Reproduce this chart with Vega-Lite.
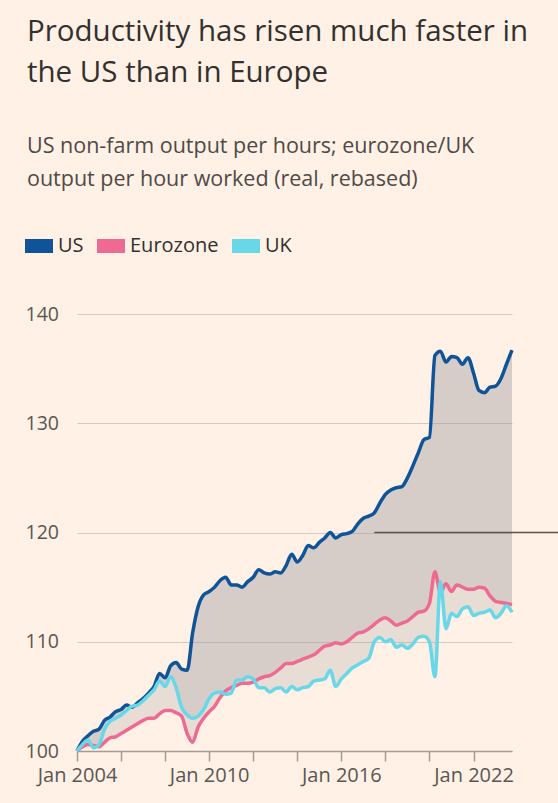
{
  "$schema": "https://vega.github.io/schema/vega-lite/v6.json",
  "width": 435,
  "height": 437,
  "autosize": {"type": "none"},
  "padding": {"left": 77, "top": 314, "right": 46, "bottom": 52},
  "background": "#fff1e5",
  "config": {
    "view": {"stroke": null},
    "font": "Open Sans",
    "legend": {"padding": 0}
  },
  "title": {
    "text": ["Productivity has risen much faster in", "the US than in Europe"],
    "subtitle": ["US non-farm output per hours; eurozone/UK", "output per hour worked (real, rebased)"],
    "anchor": "start",
    "frame": "bounds",
    "font": "Open Sans",
    "subtitleFont": "Open Sans",
    "fontSize": 29.5,
    "fontWeight": "normal",
    "color": "#33302e",
    "lineHeight": 41,
    "subtitleFontSize": 21.5,
    "subtitleColor": "#4f4a47",
    "subtitleLineHeight": 33,
    "subtitlePadding": 47,
    "offset": 41,
    "dx": 2
  },
  "datasets": {
    "prod": [
      {"date": "2004-01-01", "US": 100.0, "Eurozone": 100.0, "UK": 100.0},
      {"date": "2004-04-01", "US": 100.9, "Eurozone": 100.4, "UK": 100.6},
      {"date": "2004-07-01", "US": 101.4, "Eurozone": 100.6, "UK": 101.0},
      {"date": "2004-10-01", "US": 101.8, "Eurozone": 100.5, "UK": 100.3},
      {"date": "2005-01-01", "US": 102.0, "Eurozone": 100.4, "UK": 100.6},
      {"date": "2005-04-01", "US": 102.8, "Eurozone": 100.8, "UK": 102.0},
      {"date": "2005-07-01", "US": 103.1, "Eurozone": 101.2, "UK": 102.7},
      {"date": "2005-10-01", "US": 103.6, "Eurozone": 101.3, "UK": 103.0},
      {"date": "2006-01-01", "US": 103.8, "Eurozone": 101.6, "UK": 103.3},
      {"date": "2006-04-01", "US": 104.2, "Eurozone": 101.9, "UK": 103.7},
      {"date": "2006-07-01", "US": 104.0, "Eurozone": 102.2, "UK": 104.1},
      {"date": "2006-10-01", "US": 104.4, "Eurozone": 102.5, "UK": 104.2},
      {"date": "2007-01-01", "US": 104.8, "Eurozone": 102.8, "UK": 104.6},
      {"date": "2007-04-01", "US": 105.3, "Eurozone": 103.0, "UK": 105.1},
      {"date": "2007-07-01", "US": 105.9, "Eurozone": 103.0, "UK": 105.6},
      {"date": "2007-10-01", "US": 107.1, "Eurozone": 103.4, "UK": 106.4},
      {"date": "2008-01-01", "US": 106.7, "Eurozone": 103.7, "UK": 105.9},
      {"date": "2008-04-01", "US": 107.8, "Eurozone": 103.7, "UK": 106.8},
      {"date": "2008-07-01", "US": 108.1, "Eurozone": 103.5, "UK": 105.8},
      {"date": "2008-10-01", "US": 107.5, "Eurozone": 103.2, "UK": 104.0},
      {"date": "2009-01-01", "US": 107.4, "Eurozone": 101.6, "UK": 103.3},
      {"date": "2009-04-01", "US": 110.8, "Eurozone": 100.8, "UK": 103.0},
      {"date": "2009-07-01", "US": 113.2, "Eurozone": 102.2, "UK": 103.2},
      {"date": "2009-10-01", "US": 114.3, "Eurozone": 103.0, "UK": 103.8},
      {"date": "2010-01-01", "US": 114.6, "Eurozone": 103.6, "UK": 104.8},
      {"date": "2010-04-01", "US": 115.0, "Eurozone": 104.1, "UK": 105.3},
      {"date": "2010-07-01", "US": 115.6, "Eurozone": 104.9, "UK": 105.4},
      {"date": "2010-10-01", "US": 115.9, "Eurozone": 105.5, "UK": 105.2},
      {"date": "2011-01-01", "US": 115.2, "Eurozone": 105.8, "UK": 105.3},
      {"date": "2011-04-01", "US": 115.2, "Eurozone": 106.0, "UK": 106.5},
      {"date": "2011-07-01", "US": 115.0, "Eurozone": 106.2, "UK": 106.5},
      {"date": "2011-10-01", "US": 115.5, "Eurozone": 106.2, "UK": 106.8},
      {"date": "2012-01-01", "US": 115.9, "Eurozone": 106.3, "UK": 106.6},
      {"date": "2012-04-01", "US": 116.6, "Eurozone": 106.6, "UK": 105.8},
      {"date": "2012-07-01", "US": 116.3, "Eurozone": 106.8, "UK": 105.8},
      {"date": "2012-10-01", "US": 116.2, "Eurozone": 106.9, "UK": 105.4},
      {"date": "2013-01-01", "US": 116.4, "Eurozone": 107.2, "UK": 105.7},
      {"date": "2013-04-01", "US": 116.3, "Eurozone": 107.6, "UK": 105.8},
      {"date": "2013-07-01", "US": 117.0, "Eurozone": 108.0, "UK": 105.4},
      {"date": "2013-10-01", "US": 118.0, "Eurozone": 108.0, "UK": 105.9},
      {"date": "2014-01-01", "US": 117.3, "Eurozone": 108.2, "UK": 105.6},
      {"date": "2014-04-01", "US": 117.9, "Eurozone": 108.4, "UK": 105.8},
      {"date": "2014-07-01", "US": 118.8, "Eurozone": 108.6, "UK": 105.9},
      {"date": "2014-10-01", "US": 118.6, "Eurozone": 108.8, "UK": 106.4},
      {"date": "2015-01-01", "US": 119.1, "Eurozone": 109.2, "UK": 106.5},
      {"date": "2015-04-01", "US": 119.5, "Eurozone": 109.6, "UK": 106.6},
      {"date": "2015-07-01", "US": 120.0, "Eurozone": 109.7, "UK": 107.4},
      {"date": "2015-10-01", "US": 119.5, "Eurozone": 109.9, "UK": 105.9},
      {"date": "2016-01-01", "US": 119.8, "Eurozone": 109.8, "UK": 106.6},
      {"date": "2016-04-01", "US": 119.9, "Eurozone": 110.0, "UK": 107.1},
      {"date": "2016-07-01", "US": 120.1, "Eurozone": 110.4, "UK": 107.6},
      {"date": "2016-10-01", "US": 120.8, "Eurozone": 110.8, "UK": 107.9},
      {"date": "2017-01-01", "US": 121.3, "Eurozone": 110.9, "UK": 108.2},
      {"date": "2017-04-01", "US": 121.5, "Eurozone": 111.2, "UK": 108.5},
      {"date": "2017-07-01", "US": 121.8, "Eurozone": 111.6, "UK": 110.0},
      {"date": "2017-10-01", "US": 122.7, "Eurozone": 112.0, "UK": 110.4},
      {"date": "2018-01-01", "US": 123.5, "Eurozone": 112.2, "UK": 110.0},
      {"date": "2018-04-01", "US": 123.9, "Eurozone": 111.9, "UK": 110.2},
      {"date": "2018-07-01", "US": 124.1, "Eurozone": 111.5, "UK": 109.5},
      {"date": "2018-10-01", "US": 124.2, "Eurozone": 111.7, "UK": 109.7},
      {"date": "2019-01-01", "US": 125.0, "Eurozone": 111.9, "UK": 109.4},
      {"date": "2019-04-01", "US": 126.1, "Eurozone": 112.3, "UK": 109.8},
      {"date": "2019-07-01", "US": 127.3, "Eurozone": 112.7, "UK": 110.4},
      {"date": "2019-10-01", "US": 128.5, "Eurozone": 112.8, "UK": 110.5},
      {"date": "2020-01-01", "US": 128.7, "Eurozone": 113.5, "UK": 110.0},
      {"date": "2020-04-01", "US": 136.2, "Eurozone": 116.4, "UK": 106.8},
      {"date": "2020-07-01", "US": 136.6, "Eurozone": 114.5, "UK": 115.5},
      {"date": "2020-10-01", "US": 135.6, "Eurozone": 115.3, "UK": 111.2},
      {"date": "2021-01-01", "US": 136.1, "Eurozone": 114.6, "UK": 112.6},
      {"date": "2021-04-01", "US": 136.0, "Eurozone": 115.2, "UK": 112.3},
      {"date": "2021-07-01", "US": 135.4, "Eurozone": 115.0, "UK": 113.0},
      {"date": "2021-10-01", "US": 136.0, "Eurozone": 114.8, "UK": 113.2},
      {"date": "2022-01-01", "US": 134.6, "Eurozone": 114.8, "UK": 112.4},
      {"date": "2022-04-01", "US": 133.0, "Eurozone": 115.0, "UK": 112.6},
      {"date": "2022-07-01", "US": 132.8, "Eurozone": 114.9, "UK": 112.7},
      {"date": "2022-10-01", "US": 133.3, "Eurozone": 114.2, "UK": 112.9},
      {"date": "2023-01-01", "US": 133.4, "Eurozone": 113.7, "UK": 112.2},
      {"date": "2023-04-01", "US": 134.1, "Eurozone": 113.6, "UK": 112.6},
      {"date": "2023-07-01", "US": 135.4, "Eurozone": 113.5, "UK": 113.3},
      {"date": "2023-10-01", "US": 136.7, "Eurozone": 113.4, "UK": 112.7}
    ],
    "note": [{"start": "2017-07-01", "end": "2026-06-01", "v": 120}]
  },
  "layer": [
    {
      "data": {"name": "prod"},
      "mark": {"type": "area", "interpolate": "monotone", "color": "#96969e", "opacity": 0.22},
      "encoding": {
        "x": {
          "field": "date", "type": "temporal", "title": null,
          "scale": {"type": "utc", "domain": [{"year": 2004, "month": 1, "date": 1, "utc": true}, {"year": 2023, "month": 10, "date": 1, "utc": true}]},
          "axis": {
            "values": [
              {"year": 2004, "month": 1, "date": 1, "utc": true},
              {"year": 2006, "month": 1, "date": 1, "utc": true},
              {"year": 2008, "month": 1, "date": 1, "utc": true},
              {"year": 2010, "month": 1, "date": 1, "utc": true},
              {"year": 2012, "month": 1, "date": 1, "utc": true},
              {"year": 2014, "month": 1, "date": 1, "utc": true},
              {"year": 2016, "month": 1, "date": 1, "utc": true},
              {"year": 2018, "month": 1, "date": 1, "utc": true},
              {"year": 2020, "month": 1, "date": 1, "utc": true},
              {"year": 2022, "month": 1, "date": 1, "utc": true}
            ],
            "format": "%b %Y",
            "labelExpr": "utcyear(datum.value) % 6 == 0 ? datum.label : ''",
            "grid": false,
            "tickSize": 10,
            "tickColor": "#a39b94",
            "tickWidth": 1.5,
            "domainColor": "#a39b94",
            "domainWidth": 1.5,
            "labelFontSize": 20,
            "labelColor": "#5c5652",
            "labelPadding": 4,
            "labelFlush": false,
            "labelOverlap": false
          }
        },
        "y": {
          "field": "US", "type": "quantitative", "title": null,
          "scale": {"domain": [100, 140], "nice": false},
          "axis": {
            "values": [100, 110, 120, 130, 140],
            "grid": true,
            "gridColor": "#d3c9c0",
            "gridWidth": 1.2,
            "ticks": false,
            "domain": false,
            "labelAlign": "left",
            "labelBaseline": "middle",
            "labelPadding": 52,
            "labelFontSize": 19.5,
            "labelColor": "#5c5652"
          }
        },
        "y2": {"field": "Eurozone"}
      }
    },
    {
      "data": {"name": "prod"},
      "mark": {"type": "area", "interpolate": "monotone", "color": "#96969e", "opacity": 0.22},
      "encoding": {
        "x": {"field": "date", "type": "temporal", "title": null},
        "y": {"field": "US", "type": "quantitative", "title": null},
        "y2": {"field": "UK"}
      }
    },
    {
      "data": {"name": "prod"},
      "transform": [{"fold": ["US", "Eurozone", "UK"], "as": ["series", "value"]}],
      "mark": {"type": "line", "interpolate": "monotone", "strokeWidth": 3.5},
      "encoding": {
        "x": {"field": "date", "type": "temporal", "title": null},
        "y": {"field": "value", "type": "quantitative", "title": null},
        "color": {
          "field": "series", "type": "nominal",
          "scale": {"domain": ["US", "Eurozone", "UK"], "range": ["#0f5499", "#ee6a93", "#68d7e8"]},
          "legend": {
            "title": null,
            "orient": "none",
            "direction": "horizontal",
            "legendX": -52,
            "legendY": -82,
            "symbolType": "M-1,-0.5H1V0.5H-1Z",
            "symbolSize": 784,
            "symbolStrokeWidth": 0,
            "symbolOpacity": 1,
            "labelFontSize": 20,
            "labelColor": "#33302e",
            "labelOffset": 5,
            "columnPadding": 13,
            "encode": {
              "symbols": {"update": {"fill": {"scale": "color", "field": "value"}, "fillOpacity": {"value": 1}, "strokeWidth": {"value": 0}}}
            }
          }
        }
      }
    },
    {
      "data": {"name": "note"},
      "mark": {"type": "rule", "clip": false, "color": "#5a5550", "strokeWidth": 1.5},
      "encoding": {
        "x": {"field": "start", "type": "temporal"},
        "x2": {"field": "end"},
        "y": {"field": "v", "type": "quantitative"}
      }
    }
  ]
}
